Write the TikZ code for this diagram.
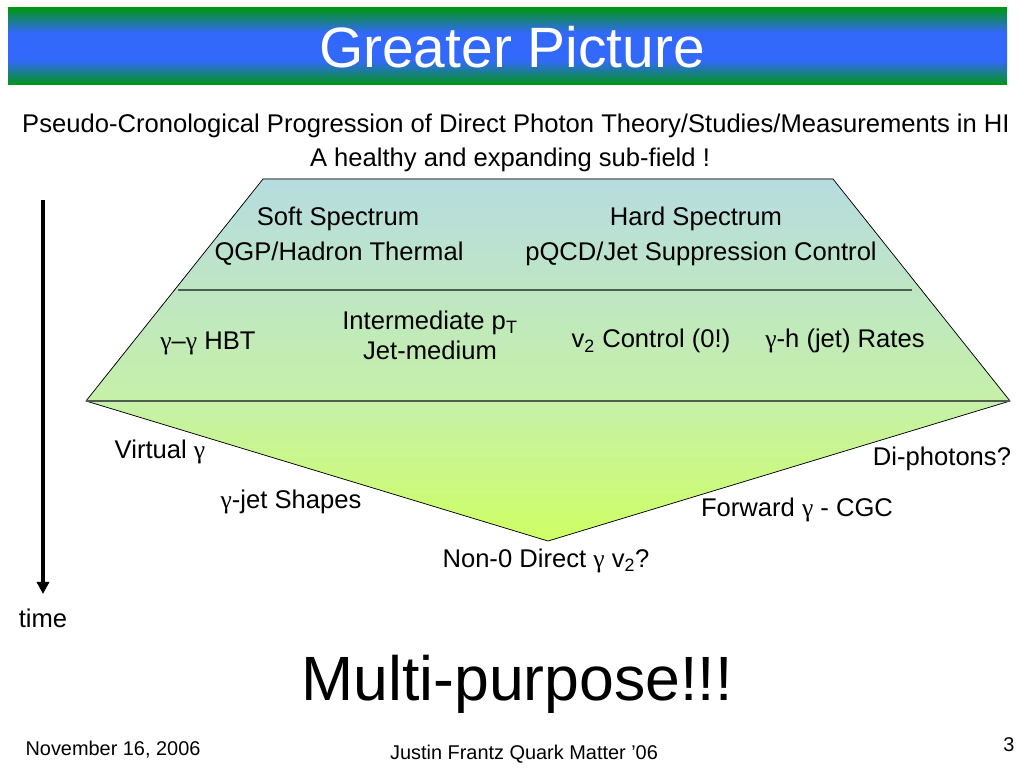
\documentclass[tikz,border=0pt]{standalone}
\usepackage{fontspec}
\setmainfont{Liberation Sans}
\newfontfamily\greekfont{Liberation Serif}
\usetikzlibrary{positioning, arrows.meta}
\newcommand{\gam}{{\greekfont γ}}
\definecolor{bannergreen}{RGB}{0,150,20}
\definecolor{bannerblue}{RGB}{50,105,250}
\definecolor{traptop}{RGB}{182,220,224}
\definecolor{trapmid}{RGB}{198,240,168}
\definecolor{tribot}{RGB}{206,255,100}
\definecolor{rulecol}{RGB}{78,94,78}
\pgfdeclareverticalshading{bannershade}{100bp}{color(0bp)=(bannergreen); color(25bp)=(bannergreen); color(41bp)=(bannerblue); color(59bp)=(bannerblue); color(75bp)=(bannergreen); color(100bp)=(bannergreen)}

\begin{document}
\begin{tikzpicture}[x=0.703125pt, y=-0.703125pt,
    txt/.style={font=\fontsize{18}{21}\selectfont, inner sep=0pt, anchor=base},
    foot/.style={font=\fontsize{14}{16}\selectfont, inner sep=0pt, anchor=base},
    rule/.style={draw=rulecol, line width=1pt},
    timearrow/.style={line width=2.6pt, -{Triangle[width=8.5pt, length=8.5pt]}}]
    \useasboundingbox (0,0) rectangle (1024,768);

    % banner
    \shade[shading=bannershade] (8,8) rectangle (1007,85);
    \node[txt, text=white, font=\fontsize{40}{48}\selectfont] (title) at (512,68) {Greater Picture};

    \node[txt] (sub1) at (516,133) {Pseudo-Cronological Progression of Direct Photon Theory/Studies/Measurements in HI};
    \node[txt] (sub2) at (510,167) {A healthy and expanding sub-field !};

    % trapezoid and triangle
    \fill[top color=traptop, bottom color=trapmid] (263,179) -- (833,179) -- (1010,401) -- (86,401) -- cycle;
    \fill[top color=trapmid, bottom color=tribot] (86,401) -- (1010,401) -- (548,541) -- cycle;
    \draw[line width=0.5pt] (263,179) -- (833,179) -- (1010,401) -- (548,541) -- (86,401) -- cycle;
    \draw[rule] (178,290) -- (912,290);
    \draw[rule] (86,401) -- (1010,401);

    \node[txt] (soft) at (338,226) {Soft Spectrum};
    \node[txt] (qgp) at (339,261) {QGP/Hadron Thermal};
    \node[txt] (hard) at (696,226) {Hard Spectrum};
    \node[txt] (pqcd) at (701,261) {pQCD/Jet Suppression Control};

    \node[txt] (hbt) at (208,349) {\gam–\gam\ HBT};
    \node[txt] (inter) at (430,330) {Intermediate p\textsubscript{T}};
    \node[txt] (jetmed) at (430,359) {Jet-medium};
    \node[txt] (vtwo) at (651,348) {v\textsubscript{2} Control (0!)};
    \node[txt] (ghrate) at (845,348) {\gam-h (jet) Rates};

    \node[txt] (virt) at (160,458) {Virtual \gam};
    \node[txt] (gjet) at (291,508) {\gam-jet Shapes};
    \node[txt] (nonzero) at (546,567) {Non-0 Direct \gam\ v\textsubscript{2}?};
    \node[txt] (fwd) at (797,516) {Forward \gam\ - CGC};
    \node[txt] (diphot) at (942,465) {Di-photons?};

    % time axis
    \coordinate (tstart) at (43,200);
    \coordinate (tend) at (43,594);
    \draw[timearrow] (tstart) -- (tend);
    \node[txt, anchor=north] (time) [below=10pt of tend] {time};

    \node[txt, font=\fontsize{44}{52}\selectfont] (multi) at (517,700) {Multi-purpose!!!};

    \node[foot] (date) at (113,755) {November 16, 2006};
    \node[foot] (author) at (524,759) {Justin Frantz Quark Matter ’06};
    \node[foot] (page) at (1009,751) {3};
\end{tikzpicture}
\end{document}
